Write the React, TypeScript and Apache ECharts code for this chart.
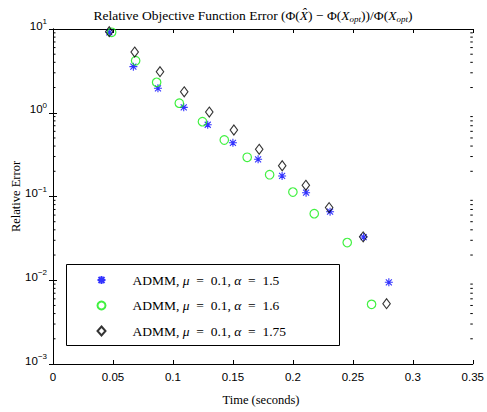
import React, { useEffect, useRef } from "react";
import * as echarts from "echarts";

// Time (seconds) and relative error for each ADMM setting
const timeA15 = [0.047, 0.067, 0.0875, 0.109, 0.129, 0.150, 0.171, 0.191, 0.211, 0.231, 0.259, 0.280];
const errA15 = [9.13, 3.55, 1.96, 1.16, 0.719, 0.438, 0.278, 0.176, 0.111, 0.0658, 0.0328, 0.00946];
const timeA16 = [0.0489, 0.0689, 0.0864, 0.1053, 0.1246, 0.1428, 0.1619, 0.1806, 0.2, 0.2178, 0.2453, 0.2656];
const errA16 = [9.13, 4.18, 2.31, 1.3, 0.782, 0.473, 0.294, 0.182, 0.113, 0.0623, 0.0282, 0.00516];
const timeA175 = [0.0469, 0.0681, 0.0892, 0.1094, 0.1303, 0.1508, 0.1719, 0.1911, 0.2108, 0.2302, 0.2586, 0.2781];
const errA175 = [9.29, 5.31, 3.09, 1.78, 1.02, 0.622, 0.366, 0.233, 0.136, 0.0737, 0.033, 0.00525];

const seriesNames = ["a15", "a16", "a175"];
const SP = "\u2002";
const legendLabels = [
  `ADMM, {i|μ}${SP}=${SP}0.1, {i|α}${SP}=${SP}1.5`,
  `ADMM, {i|μ}${SP}=${SP}0.1, {i|α}${SP}=${SP}1.6`,
  `ADMM, {i|μ}${SP}=${SP}0.1, {i|α}${SP}=${SP}1.75`,
];
const yDecades = [-3, -2, -1, 0, 1];
const minorMantissas = [2, 3, 4, 5, 6, 7, 8, 9];

const X_MIN = 0;
const X_MAX = 0.35;
const X_INT = 0.05;
const Y_MIN = 0.001;
const Y_MAX = 10;

const SERIF = "'Liberation Serif', 'Times New Roman', serif";
const SANS = "'Liberation Sans', Arial, Helvetica, sans-serif";

const STAR = "path://M0,-10 L0,10 M-10,0 L10,0 M-7.5,-7.5 L7.5,7.5 M-7.5,7.5 L7.5,-7.5";

const minorTicks: number[][] = [];
yDecades.slice(0, -1).forEach((d) =>
  minorMantissas.forEach((m) => minorTicks.push([0, m * Math.pow(10, d)]))
);

function fmtX(v: number) {
  return String(+v.toFixed(2));
}

export default function App() {
  const ref = useRef<HTMLDivElement>(null);
  useEffect(() => {
    if (!ref.current) return;
    const chart = echarts.init(ref.current, undefined, { renderer: "svg" });
    const tickStyle = { color: "#000", width: 1 };
    const axisLine = { show: true, lineStyle: { color: "#000", width: 1 } };
    const option: any = {
      animation: false,
      backgroundColor: "#fff",
      grid: { left: 53, right: 14, top: 29, bottom: 48 },
      xAxis: [
        {
          type: "value",
          min: X_MIN,
          max: X_MAX,
          interval: X_INT,
          axisLine,
          axisTick: { show: true, inside: true, length: 4, lineStyle: tickStyle },
          splitLine: { show: false },
          axisLabel: {
            formatter: fmtX,
            fontFamily: SANS,
            fontSize: 11.5,
            color: "#000",
            margin: 7,
          },
        },
        {
          type: "value",
          position: "top",
          min: X_MIN,
          max: X_MAX,
          interval: X_INT,
          axisLine,
          axisTick: { show: true, inside: true, length: 4, lineStyle: tickStyle },
          splitLine: { show: false },
          axisLabel: { show: false },
        },
      ],
      yAxis: [
        {
          type: "log",
          logBase: 10,
          min: Y_MIN,
          max: Y_MAX,
          axisLine,
          axisTick: { show: true, inside: true, length: 4, lineStyle: tickStyle },
          splitLine: { show: false },
          minorTick: { show: false },
          axisLabel: {
            margin: 6,
            padding: [0, 0, 7, 0],
            formatter: (v: number) => {
              const e = Math.round(Math.log10(v));
              const es = e < 0 ? "−" + Math.abs(e) : String(e);
              return "{b|10}{s|" + es + "}";
            },
            rich: {
              b: { fontFamily: SANS, fontSize: 11.5, color: "#000", lineHeight: 16 },
              s: {
                fontFamily: SANS,
                fontSize: 8,
                color: "#000",
                lineHeight: 8,
                verticalAlign: "top",
              },
            },
          },
        },
        {
          type: "log",
          logBase: 10,
          position: "right",
          min: Y_MIN,
          max: Y_MAX,
          axisLine,
          axisTick: { show: true, inside: true, length: 4, lineStyle: tickStyle },
          splitLine: { show: false },
          axisLabel: { show: false },
        },
      ],
      legend: {
        orient: "vertical",
        left: 96.5,
        top: 273,
        padding: 0,
        itemWidth: 8,
        itemHeight: 9,
        itemGap: 11.5,
        data: seriesNames,
        formatter: (name: string) => "{g|}" + legendLabels[seriesNames.indexOf(name)],
        textStyle: {
          fontFamily: SERIF,
          fontSize: 13.5,
          lineHeight: 14,
          color: "#000",
          rich: {
            g: { width: 22 },
            i: { fontFamily: SERIF, fontSize: 13.5, fontStyle: "italic", color: "#000" },
          },
        },
        z: 10,
      },
      graphic: [
        {
          type: "rect",
          z: 5,
          shape: { x: 66.5, y: 264.5, width: 273, height: 81 },
          style: { fill: "#fff", stroke: "#000", lineWidth: 1 },
        },
        {
          type: "text",
          x: 253,
          y: 15,
          style: {
            text: "Relative Objective Function Error (Φ({i|X̂}) − Φ({i|X}{sub|opt}))/Φ({i|X}{sub|opt})",
            align: "center",
            verticalAlign: "middle",
            font: "13.5px " + SERIF,
            fill: "#000",
            rich: {
              i: { fontStyle: "italic", fontFamily: SERIF, fontSize: 13.5, lineHeight: 16 },
              sub: {
                fontStyle: "italic",
                fontFamily: SERIF,
                fontSize: 9,
                lineHeight: 8,
                verticalAlign: "bottom",
              },
            },
          },
        },
        {
          type: "text",
          x: 261,
          y: 400,
          style: {
            text: "Time (seconds)",
            align: "center",
            verticalAlign: "middle",
            font: "12.5px " + SERIF,
            fill: "#000",
          },
        },
        {
          type: "text",
          x: 16,
          y: 196.5,
          rotation: Math.PI / 2,
          style: {
            text: "Relative Error",
            align: "center",
            verticalAlign: "middle",
            font: "12.5px " + SERIF,
            fill: "#000",
          },
        },
      ],
      series: [
        {
          name: seriesNames[0],
          type: "scatter",
          symbol: STAR,
          symbolSize: 8,
          itemStyle: { color: "rgba(0,0,255,0)", borderColor: "#0000ff", borderWidth: 1.1 },
          data: timeA15.map((t, i) => [t, errA15[i]]),
          z: 2,
        },
        {
          name: seriesNames[1],
          type: "scatter",
          symbol: "circle",
          symbolSize: 8.5,
          itemStyle: { color: "rgba(0,0,0,0)", borderColor: "#11ee11", borderWidth: 1.2 },
          data: timeA16.map((t, i) => [t, errA16[i]]),
          z: 3,
        },
        {
          name: seriesNames[2],
          type: "scatter",
          symbol: "diamond",
          symbolSize: [7.5, 10],
          itemStyle: { color: "rgba(0,0,0,0)", borderColor: "#000", borderWidth: 1.1 },
          data: timeA175.map((t, i) => [t, errA175[i]]),
          z: 4,
        },
        {
          type: "custom",
          silent: true,
          data: minorTicks,
          renderItem: (_p: any, api: any) => {
            const v = api.value(1);
            const l = api.coord([X_MIN, v]);
            const r = api.coord([X_MAX, v]);
            const st = { stroke: "#000", lineWidth: 1 };
            return {
              type: "group",
              children: [
                { type: "line", shape: { x1: l[0], y1: l[1], x2: l[0] + 2.5, y2: l[1] }, style: st },
                { type: "line", shape: { x1: r[0], y1: r[1], x2: r[0] - 2.5, y2: r[1] }, style: st },
              ],
            };
          },
          z: 1,
        },
      ],
    };
    chart.setOption(option);
    return () => chart.dispose();
  }, []);
  return (
    <div
      ref={ref}
      style={{ position: "absolute", left: 0, top: 0, width: 487, height: 412 }}
    />
  );
}
